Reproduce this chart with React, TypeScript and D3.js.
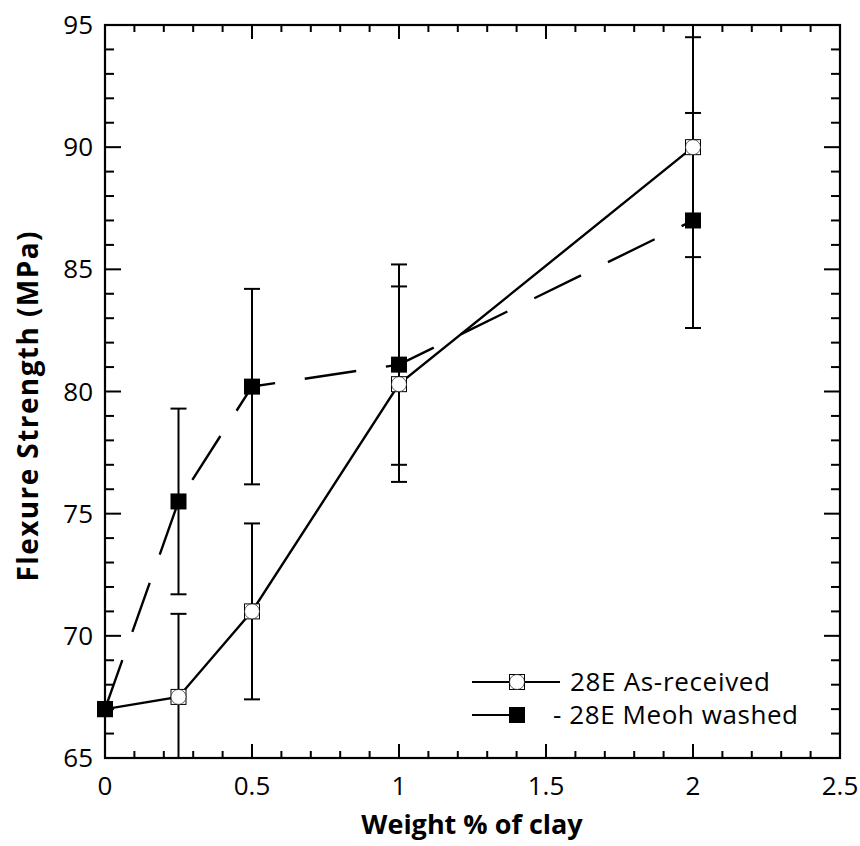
import React from "react";
import * as d3 from "d3";

const xValues = [0, 0.25, 0.5, 1, 2];
const asReceived = [67.0, 67.5, 71.0, 80.3, 90.0];
const asReceivedErr = [0, 3.4, 3.6, 4.0, 4.5];
const meohWashed = [67.0, 75.5, 80.2, 81.1, 87.0];
const meohWashedErr = [0, 3.8, 4.0, 4.1, 4.4];
const xTicks = [0, 0.5, 1, 1.5, 2, 2.5];
const yTicks = [65, 70, 75, 80, 85, 90, 95];
const legendLabels = ["28E As-received", "- 28E Meoh washed"];

const W = 860, H = 846;
const m = { left: 105, right: 20, top: 25, bottom: 88 };
const FONT = "'Open Sans', 'Noto Sans', sans-serif";

export default function App() {
  const x = d3.scaleLinear().domain([0, 2.5]).range([m.left, W - m.right]);
  const y = d3.scaleLinear().domain([65, 95]).range([H - m.bottom, m.top]);
  const x0 = x.range()[0], x1 = x.range()[1];
  const y0 = y.range()[0], y1 = y.range()[1];
  const line = d3.line<number>().x((_, i) => x(xValues[i])).y((d) => y(d));
  const minorX = d3.range(0, 2.5001, 0.1).map((v) => +v.toFixed(2));
  const minorY = d3.range(65, 95.001, 1);
  const isMajorX = (v: number) => Math.abs(v * 2 - Math.round(v * 2)) < 1e-6;
  const isMajorY = (v: number) => v % 5 === 0;
  const sq = 8;

  const openMarker = (cx: number, cy: number, k: string) => (
    <g key={k}>
      <rect x={cx - sq} y={cy - sq} width={sq * 2} height={sq * 2} fill="black" />
      <rect x={cx - sq + 1} y={cy - sq + 1} width={sq * 2 - 2} height={sq * 2 - 2} fill="white" />
      <circle cx={cx} cy={cy} r={sq - 0.5} fill="white" stroke="black" strokeWidth={0.6} />
    </g>
  );
  const filledMarker = (cx: number, cy: number, k: string) => (
    <rect key={k} x={cx - sq} y={cy - sq} width={sq * 2} height={sq * 2} fill="black" />
  );
  const errBars = (vals: number[], errs: number[], k: string) =>
    vals.map((v, i) =>
      errs[i] > 0 ? (
        <g key={k + i} stroke="black" strokeWidth={2}>
          <line x1={x(xValues[i])} x2={x(xValues[i])} y1={y(v - errs[i])} y2={y(v + errs[i])} />
          {v + errs[i] <= 95 && (
            <line x1={x(xValues[i]) - 8} x2={x(xValues[i]) + 8} y1={y(v + errs[i])} y2={y(v + errs[i])} />
          )}
          {v - errs[i] >= 65 && (
            <line x1={x(xValues[i]) - 8} x2={x(xValues[i]) + 8} y1={y(v - errs[i])} y2={y(v - errs[i])} />
          )}
        </g>
      ) : null
    );

  const ly1 = 682, ly2 = 715;
  return (
    <svg width={W} height={H} style={{ position: "absolute", left: 0, top: 0, background: "white" }}>
      <defs>
        <clipPath id="plot">
          <rect x={x0} y={y1} width={x1 - x0} height={y0 - y1} />
        </clipPath>
      </defs>
      <rect width={W} height={H} fill="white" />
      <g stroke="black" strokeWidth={2}>
        {minorX.map((v) => {
          const len = isMajorX(v) ? 14 : 7;
          return (
            <g key={"tx" + v}>
              <line x1={x(v)} x2={x(v)} y1={y0} y2={y0 - len} />
              <line x1={x(v)} x2={x(v)} y1={y1} y2={y1 + len} />
            </g>
          );
        })}
        {minorY.map((v) => {
          const len = isMajorY(v) ? 16 : 9;
          return (
            <g key={"ty" + v}>
              <line x1={x0} x2={x0 + len} y1={y(v)} y2={y(v)} />
              <line x1={x1} x2={x1 - len} y1={y(v)} y2={y(v)} />
            </g>
          );
        })}
      </g>
      <g clipPath="url(#plot)">
        {errBars(asReceived, asReceivedErr, "ea")}
        {errBars(meohWashed, meohWashedErr, "eb")}
        <path d={line(asReceived) || ""} fill="none" stroke="black" strokeWidth={2.4} />
        <path d={line(meohWashed) || ""} fill="none" stroke="black" strokeWidth={2.4} strokeDasharray="52,30" />
      </g>
      {asReceived.map((v, i) => openMarker(x(xValues[i]), y(v), "ma" + i))}
      {meohWashed.map((v, i) => filledMarker(x(xValues[i]), y(v), "mb" + i))}
      <rect x={x0} y={y1} width={x1 - x0} height={y0 - y1} fill="none" stroke="black" strokeWidth={2.2} />
      <g fontFamily={FONT} fontSize={26} fill="black">
        {xTicks.map((v) => (
          <text key={"lx" + v} x={x(v)} y={795} textAnchor="middle">{String(v)}</text>
        ))}
        {yTicks.map((v) => (
          <text key={"ly" + v} x={93} y={y(v) + 9} textAnchor="end">{String(v)}</text>
        ))}
      </g>
      <text x={472} y={834} textAnchor="middle" fontFamily={FONT} fontSize={27} fontWeight="bold">Weight % of clay</text>
      <text transform={`translate(38,${(y0 + y1) / 2 + 15}) rotate(-90)`} textAnchor="middle" fontFamily={FONT} fontSize={28} fontWeight="bold" textLength={350} lengthAdjust="spacing">Flexure Strength (MPa)</text>
      <g>
        <line x1={472} x2={560} y1={ly1} y2={ly1} stroke="black" strokeWidth={2} />
        {openMarker(517, ly1, "lg1")}
        <line x1={472} x2={512} y1={ly2} y2={ly2} stroke="black" strokeWidth={2} />
        {filledMarker(517, ly2, "lg2")}
        <text x={570} y={ly1 + 9} fontFamily={FONT} fontSize={26} textLength={200} lengthAdjust="spacing">{legendLabels[0]}</text>
        <text x={553} y={ly2 + 9} fontFamily={FONT} fontSize={26} textLength={245} lengthAdjust="spacing">{legendLabels[1]}</text>
      </g>
    </svg>
  );
}
